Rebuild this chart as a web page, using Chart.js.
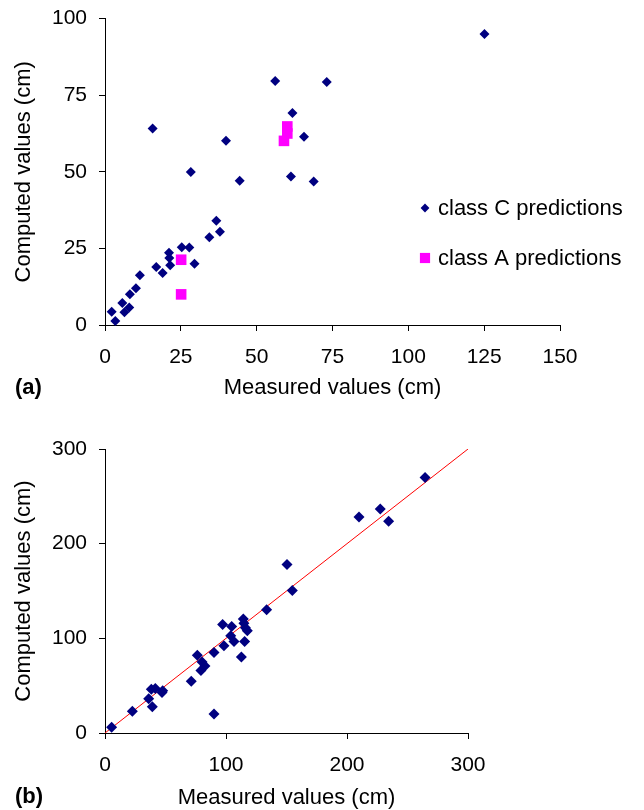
<!DOCTYPE html>
<html>
<head>
<meta charset="utf-8">
<title>Measured vs computed values</title>
<script src="https://cdn.jsdelivr.net/npm/chart.js"></script>
<style>
  body { margin: 0; background: #fff; overflow: hidden; }
  .wrap { position: relative; width: 644px; height: 810px; overflow: hidden; }
  canvas { position: absolute; left: 0; }
  #chartA { top: -6px; }
  #chartB { top: 400px; }
</style>
</head>
<body>
<div class="wrap">
  <canvas id="chartA" width="644" height="406"></canvas>
  <canvas id="chartB" width="644" height="410"></canvas>
</div>
<script>
// (a) class C predictions
const classCX = [2.2, 3.4, 6.4, 5.7, 8.0, 8.2, 10.2, 11.5, 15.7, 16.9, 19.0, 21.1, 21.2, 21.5, 25.3,
  27.8, 28.3, 29.5, 34.4, 36.7, 37.9, 39.9, 44.4, 56.1, 61.3, 61.8, 65.6, 68.8, 73.1, 125.1];
const classCY = [4.3, 1.3, 4.2, 7.2, 5.7, 10.0, 12.0, 16.2, 64.1, 18.9, 17.0, 23.6, 21.9, 19.5, 25.4,
  25.3, 49.9, 20.0, 28.6, 34.0, 30.4, 60.1, 47.1, 79.6, 48.5, 69.2, 61.4, 46.8, 79.3, 95.0];

// (a) class A predictions
const classAX = [25.1, 25.1, 59.0, 60.1, 60.1];
const classAY = [21.3, 10.0, 60.1, 62.5, 64.8];

// (b) all predictions
const bX = [5.5, 22.6, 39.1, 36.1, 38.3, 41.6, 47.1, 47.7, 71.3, 76.3, 80.2, 82.6, 79.3, 90.1, 90.1,
  97.2, 98.3, 104.7, 103.9, 106.6, 112.7, 114.3, 114.8, 115.4, 116.0, 117.6, 133.6, 150.4, 154.8,
  209.9, 227.5, 234.4, 264.5];
const bY = [6.0, 23.0, 27.8, 36.3, 46.2, 46.9, 42.7, 44.6, 54.7, 82.2, 75.1, 70.9, 65.9, 20.1, 85.0,
  114.6, 92.1, 112.5, 102.6, 96.6, 80.4, 120.3, 116.0, 96.6, 111.1, 107.9, 130.2, 178.1, 150.6,
  228.2, 236.7, 223.6, 269.8];

// 1:1 line in (b)
const lineX = [0, 300];
const lineY = [0, 300];

// axis ticks
const ticksAX = [0, 25, 50, 75, 100, 125, 150];
const ticksAY = [0, 25, 50, 75, 100];
const ticksB = [0, 100, 200, 300];

const legendLabels = ['class C predictions', 'class A predictions'];

const FONT = 'Liberation Sans, Arial, sans-serif';

function toPoints(xs, ys) {
  return xs.map((x, i) => ({ x: x, y: ys[i] }));
}

function axis(ticks, title, horizontal, size) {
  return {
    type: 'linear',
    min: ticks[0],
    max: ticks[ticks.length - 1],
    afterBuildTicks: s => { s.ticks = ticks.map(v => ({ value: v })); },
    afterFit: s => { if (horizontal) s.height = size; else s.width = size; },
    grid: { drawOnChartArea: false, drawTicks: true, tickLength: 6, color: '#000' },
    border: { color: '#000', width: 1 },
    ticks: {
      color: '#000',
      padding: horizontal ? 14 : 12,
      font: { family: FONT, size: 21 }
    },
    title: {
      display: true,
      text: title,
      color: '#000',
      font: { family: FONT, size: 22, lineHeight: 1 },
      padding: horizontal ? { top: 0, bottom: 1 } : { top: 13, bottom: 0 }
    }
  };
}

// panel letter, and the legend for (a)
function panelPlugin(letter, letterY, withLegend) {
  return {
    id: 'panel' + letter,
    afterDraw(chart) {
      const ctx = chart.ctx;
      ctx.save();
      ctx.fillStyle = '#000';
      ctx.font = 'bold 22px ' + FONT;
      ctx.textBaseline = 'middle';
      ctx.textAlign = 'left';
      ctx.fillText('(' + letter + ')', 15, letterY);

      if (withLegend) {
        const rows = [{ ds: 0, y: 214 }, { ds: 1, y: 264 }];
        rows.forEach((r, i) => {
          const d = chart.data.datasets[r.ds];
          ctx.fillStyle = d.backgroundColor;
          const opts = { pointStyle: d.pointStyle, radius: d.pointStyle === 'rect' ? 7.2 : 4.4, rotation: 0, borderWidth: 0 };
          Chart.helpers.drawPoint(ctx, opts, 425, r.y);
          ctx.fillStyle = '#000';
          ctx.font = '22px ' + FONT;
          ctx.fillText(legendLabels[i], 438, r.y + 1);
        });
      }
      ctx.restore();
    }
  };
}

new Chart(document.getElementById('chartA'), {
  type: 'scatter',
  data: {
    datasets: [{
      label: legendLabels[0],
      data: toPoints(classCX, classCY),
      pointStyle: 'rectRot',
      pointRadius: 5,
      pointBorderWidth: 0,
      backgroundColor: '#000080',
      borderColor: '#000080',
      clip: false
    }, {
      label: legendLabels[1],
      data: toPoints(classAX, classAY),
      pointStyle: 'rect',
      pointRadius: 7.5,
      pointBorderWidth: 0,
      backgroundColor: '#FF00FF',
      borderColor: '#FF00FF',
      clip: false
    }]
  },
  options: {
    responsive: false,
    animation: false,
    devicePixelRatio: 1,
    layout: { padding: { left: 0, top: 17, right: 84, bottom: 0 } },
    plugins: { legend: { display: false }, tooltip: { enabled: false } },
    scales: {
      x: axis(ticksAX, 'Measured values (cm)', true, 75),
      y: axis(ticksAY, 'Computed values (cm)', false, 105)
    }
  },
  plugins: [panelPlugin('a', 394, true)]
});

new Chart(document.getElementById('chartB'), {
  type: 'scatter',
  data: {
    datasets: [{
      label: 'predictions',
      data: toPoints(bX, bY),
      pointStyle: 'rectRot',
      pointRadius: 5.5,
      pointBorderWidth: 0,
      backgroundColor: '#000080',
      borderColor: '#000080',
      order: 0,
      clip: false
    }, {
      type: 'line',
      label: '1:1',
      data: toPoints(lineX, lineY),
      borderColor: '#FF0000',
      borderWidth: 1,
      pointRadius: 0,
      fill: false,
      order: 1
    }]
  },
  options: {
    responsive: false,
    animation: false,
    devicePixelRatio: 1,
    layout: { padding: { left: 0, top: 49, right: 176, bottom: 0 } },
    plugins: { legend: { display: false }, tooltip: { enabled: false } },
    scales: {
      x: axis(ticksB, 'Measured values (cm)', true, 77),
      y: axis(ticksB, 'Computed values (cm)', false, 105)
    }
  },
  plugins: [panelPlugin('b', 397, false)]
});
</script>
</body>
</html>
